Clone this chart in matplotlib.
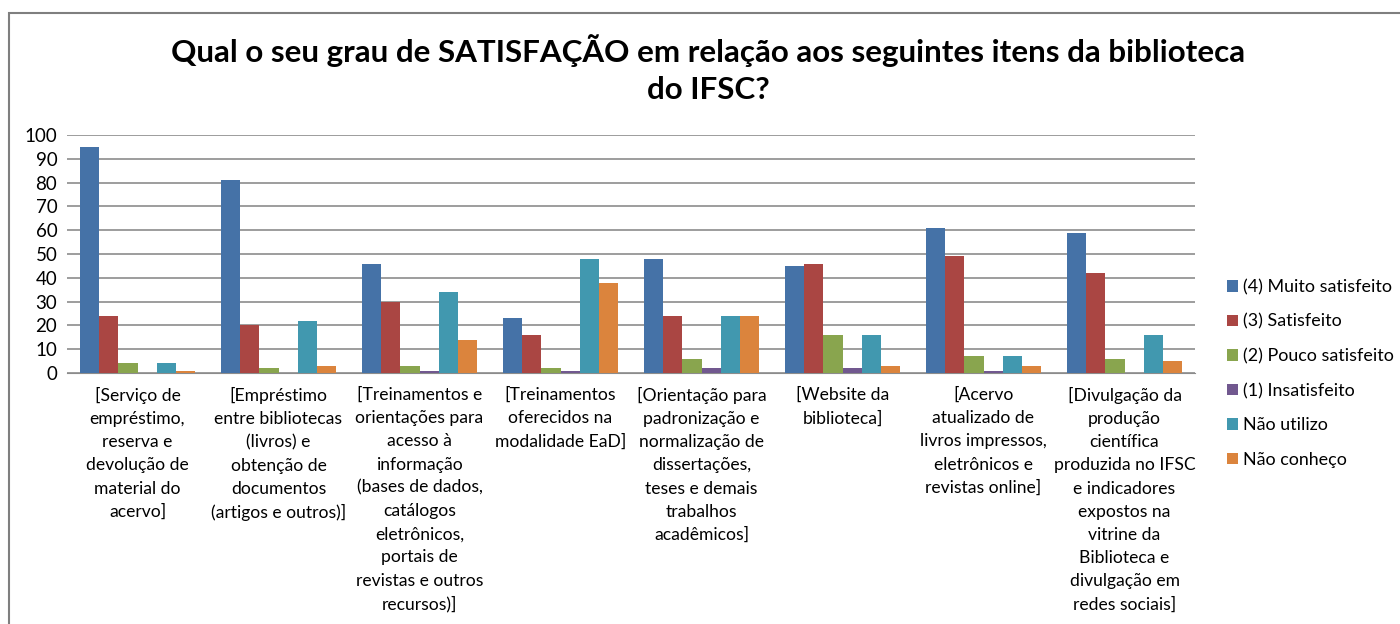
import matplotlib
matplotlib.use('Agg')
import matplotlib.pyplot as plt
import matplotlib.patches as mpatches
import numpy as np

plt.rcParams['font.family'] = ['Lato', 'DejaVu Sans']

categories = [
    '[Serviço de\nempréstimo,\nreserva e\ndevolução de\nmaterial do\nacervo]',
    '[Empréstimo\nentre bibliotecas\n(livros) e\nobtenção de\ndocumentos\n(artigos e outros)]',
    '[Treinamentos e\norientações para\nacesso à\ninformação\n(bases de dados,\ncatálogos\neletrônicos,\nportais de\nrevistas e outros\nrecursos)]',
    '[Treinamentos\noferecidos na\nmodalidade EaD]',
    '[Orientação para\npadronização e\nnormalização de\ndissertações,\nteses e demais\ntrabalhos\nacadêmicos]',
    '[Website da\nbiblioteca]',
    '[Acervo\natualizado de\nlivros impressos,\neletrônicos e\nrevistas online]',
    '[Divulgação da\nprodução\ncientífica\nproduzida no IFSC\ne indicadores\nexpostos na\nvitrine da\nBiblioteca e\ndivulgação em\nredes sociais]',
]

series_names = ['(4) Muito satisfeito', '(3) Satisfeito', '(2) Pouco satisfeito',
                '(1) Insatisfeito', 'Não utilizo', 'Não conheço']
muito_satisfeito = [95, 81, 46, 23, 48, 45, 61, 59]
satisfeito = [24, 20, 30, 16, 24, 46, 49, 42]
pouco_satisfeito = [4, 2, 3, 2, 6, 16, 7, 6]
insatisfeito = [0, 0, 1, 1, 2, 2, 1, 0]
nao_utilizo = [4, 22, 34, 48, 24, 16, 7, 16]
nao_conheco = [1, 3, 14, 38, 24, 3, 3, 5]

values = [muito_satisfeito, satisfeito, pouco_satisfeito, insatisfeito, nao_utilizo, nao_conheco]
colors = ['#4572A7', '#AA4643', '#89A54E', '#71588F', '#4198AF', '#DB843D']

fig = plt.figure(figsize=(14, 6.24), dpi=100)
ax = fig.add_axes([67/1400, 1 - 373/624, (1195 - 67)/1400, (373 - 135)/624])

# outer chart frame
fig.patches.append(mpatches.Rectangle((9/1400, -0.05), 1.1, 1 - 13/624 + 0.05,
                                      transform=fig.transFigure, fill=False,
                                      edgecolor='#7f7f7f', linewidth=1.5))

x = np.arange(len(categories))
w = 0.135
for i, (name, vals) in enumerate(zip(series_names, values)):
    ax.bar(x + (i - 2.5) * w, vals, width=w, color=colors[i], label=name, zorder=3)

ax.set_xlim(-0.5, len(categories) - 0.5)
ax.set_ylim(0, 100)
ax.set_yticks(np.arange(0, 101, 10))
ax.yaxis.grid(True, color='#8c8c8c', linewidth=1.2, zorder=0)
ax.set_xticks(x)
ax.set_xticklabels(categories, fontsize=12.6, linespacing=1.55, va='top')
ax.tick_params(axis='x', length=0, pad=10)
ax.tick_params(axis='y', length=0, labelsize=13.5, pad=7)
for s in ['top', 'right', 'left']:
    ax.spines[s].set_visible(False)
ax.spines['bottom'].set_color('#8c8c8c')

fig.text(708/1400, 1 - 69/624, 'Qual o seu grau de SATISFAÇÃO em relação aos seguintes itens da biblioteca\ndo IFSC?',
         ha='center', va='center', fontsize=22.6, fontweight='bold', linespacing=1.37)

leg = ax.legend(loc='upper left', bbox_to_anchor=(1220/1400, 1 - 272/624), bbox_transform=fig.transFigure,
                frameon=False, fontsize=12.9, handlelength=0.6, handleheight=0.6,
                handletextpad=0.3, labelspacing=1.03, borderaxespad=0)

plt.savefig('out.png', dpi=100)
